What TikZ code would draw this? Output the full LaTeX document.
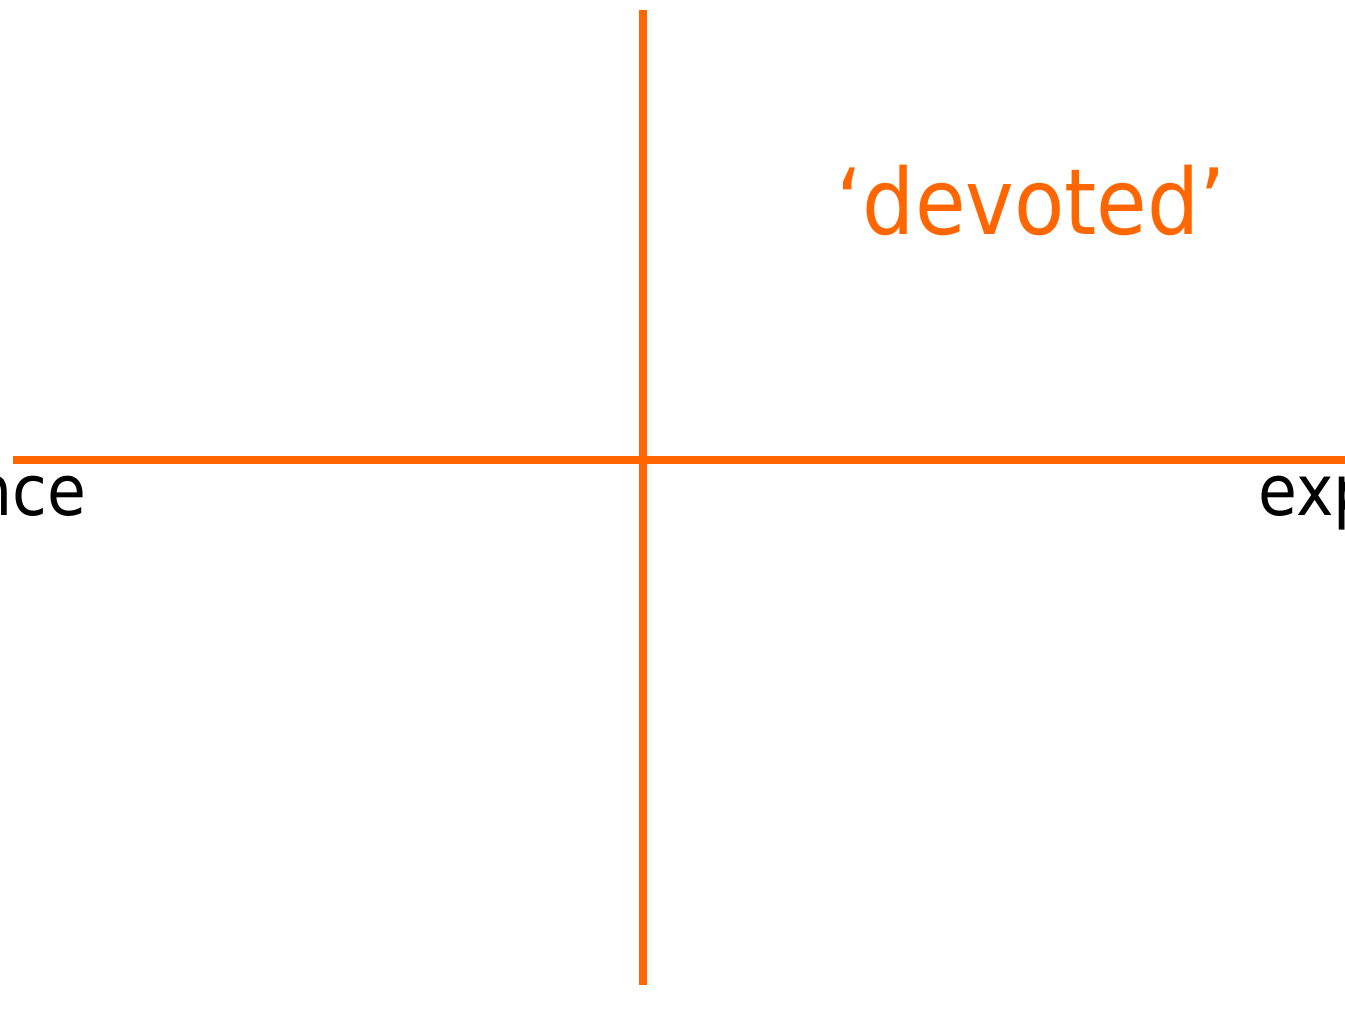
\documentclass[tikz,border=0pt]{standalone}
\usepackage{fontspec}
\setmainfont{DejaVu Sans Condensed}
\usetikzlibrary{positioning}
\definecolor{axisorange}{HTML}{FF6600}

\begin{document}
\begin{tikzpicture}[
  axis/.style={
    draw=axisorange,
    line width=2.2pt
  },
  quadlabel/.style={
    text=axisorange,
    inner sep=0pt,
    font=\fontsize{26pt}{31pt}\selectfont
  },
  endlabel/.style={
    text=black,
    inner sep=0pt,
    font=\fontsize{20pt}{24pt}\selectfont
  }
]

\useasboundingbox (0,0) rectangle (13.45,-10.09);

\coordinate (left)   at (0.13,-4.60);
\coordinate (right)  at (13.45,-4.60);
\coordinate (top)    at (6.43,-0.10);
\coordinate (bottom) at (6.43,-9.85);

\draw[axis] (left) -- (right);
\draw[axis] (top) -- (bottom);

\node[quadlabel, anchor=base west] (devoted) at (8.36,-2.34) {‘devoted’};
\node[endlabel, anchor=base east]  (nce)     at (0.87,-5.15) {nce};
\node[endlabel, anchor=base west]  (exp)     at (12.58,-5.15) {exp};

\end{tikzpicture}
\end{document}
